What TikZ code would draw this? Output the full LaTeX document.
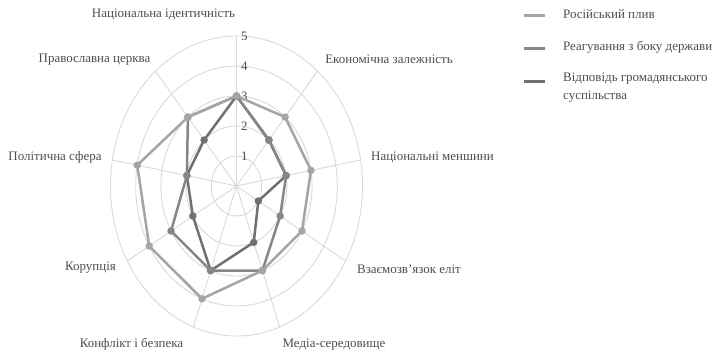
\documentclass[tikz,border=0pt]{standalone}
\usepackage{fontspec}
\setmainfont{Liberation Serif}
\definecolor{gridgray}{HTML}{D9D9D9}
\definecolor{txtgray}{HTML}{4D4D4D}
\definecolor{serone}{HTML}{A5A5A5}
\definecolor{sertwo}{HTML}{868686}
\definecolor{serthree}{HTML}{707070}
\tikzset{
  gridline/.style={gridgray, line width=0.9bp},
  serline/.style={line width=2.5bp, line join=round},
  dot/.style={circle, fill, inner sep=0pt, minimum size=7.5bp},
  cat/.style={font=\fontsize{13}{18}\selectfont, text=txtgray, inner sep=0pt},
  keyline/.style={line width=3bp},
}
\begin{document}
\begin{tikzpicture}[x=1bp,y=1bp]
\useasboundingbox (0,0) rectangle (716,353);
\begin{scope}[shift={(236.5,167)},x=25.2bp,y=30bp]
  % rings and spokes
  \foreach \r in {1,...,5}
    \draw[gridline] (0,0) ellipse[x radius=\r, y radius=\r];
  \foreach \i in {0,...,8}
    \draw[gridline] (0,0) -- ({90-40*\i}:5);
  \foreach \r in {1,...,5}
    \node[cat, anchor=mid west] at (0.18,\r-0.07) {\r};
  % civil society
  \foreach \v [count=\i from 0] in {3,2,2,1,2,3,2,2,2}
    \coordinate (c\i) at ({90-40*\i}:\v);
  \draw[serline, serthree] (c0) -- (c1) -- (c2) -- (c3) -- (c4) -- (c5) -- (c6) -- (c7) -- (c8) -- cycle;
  \foreach \i in {0,...,8} \node[dot, serthree] at (c\i) {};
  % state response
  \foreach \v [count=\i from 0] in {3,2,2,2,3,3,3,2,3}
    \coordinate (s\i) at ({90-40*\i}:\v);
  \draw[serline, sertwo] (s0) -- (s1) -- (s2) -- (s3) -- (s4) -- (s5) -- (s6) -- (s7) -- (s8) -- cycle;
  \foreach \i in {0,...,8} \node[dot, sertwo] at (s\i) {};
  % russian influence
  \foreach \v [count=\i from 0] in {3,3,3,3,3,4,4,4,3}
    \coordinate (r\i) at ({90-40*\i}:\v);
  \draw[serline, serone] (r0) -- (r1) -- (r2) -- (r3) -- (r4) -- (r5) -- (r6) -- (r7) -- (r8) -- cycle;
  \foreach \i in {0,...,8} \node[dot, serone] at (r\i) {};
\end{scope}
% category labels
\node[cat, anchor=mid] (nid) at (163.5,338) {Національна ідентичність};
\node[cat, anchor=mid] (eco) at (389,292) {Економічна залежність};
\node[cat, anchor=mid] (min) at (432.5,195) {Національні меншини};
\node[cat, anchor=mid] (eli) at (409,82) {Взаємозв'язок еліт};
\node[cat, anchor=mid] (med) at (334,8) {Медіа-середовище};
\node[cat, anchor=mid] (con) at (131.5,8) {Конфлікт і безпека};
\node[cat, anchor=mid] (cor) at (90.5,85) {Корупція};
\node[cat, anchor=mid] (pol) at (55,195) {Політична сфера};
\node[cat, anchor=mid] (chu) at (94.5,293) {Православна церква};
% legend
\coordinate (ka) at (524,337);
\coordinate (kb) at (524,305);
\coordinate (kc) at (524,272);
\draw[keyline, serone] (ka) -- ++(21,0);
\draw[keyline, sertwo] (kb) -- ++(21,0);
\draw[keyline, serthree] (kc) -- ++(21,0);
\node[cat, anchor=mid west] (la) at (563,337) {Російський плив};
\node[cat, anchor=mid west] (lb) at (563,305) {Реагування з боку держави};
\node[cat, anchor=north west, align=left] (lc) at (563,280) {Відповідь громадянського\\суспільства};
\end{tikzpicture}
\end{document}
